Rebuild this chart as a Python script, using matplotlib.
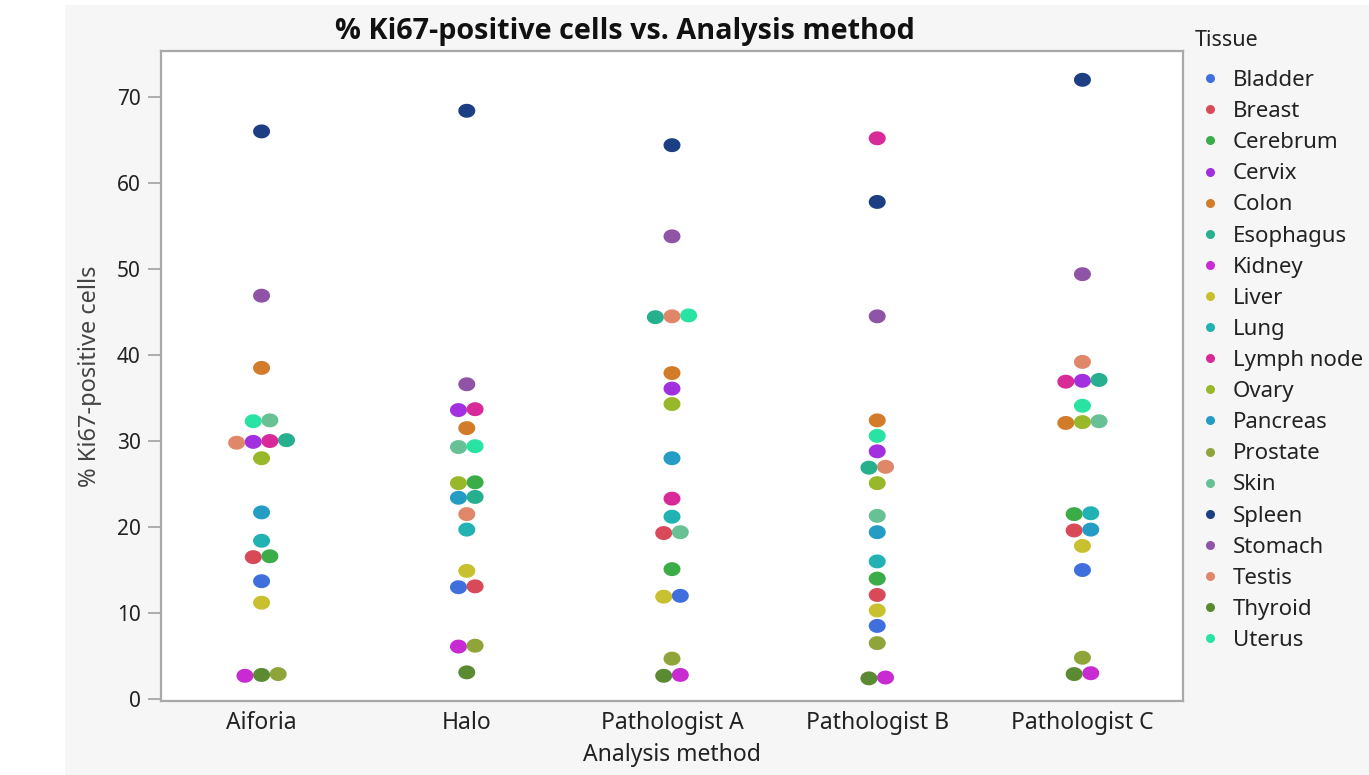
import matplotlib.pyplot as plt
import numpy as np
from matplotlib.patches import Rectangle
from matplotlib.path import Path

plt.rcParams['font.family'] = ['Noto Sans', 'DejaVu Sans']

# 分析方法
methods = ['Aiforia', 'Halo', 'Pathologist A', 'Pathologist B', 'Pathologist C']

# 組織
tissues = ['Bladder', 'Breast', 'Cerebrum', 'Cervix', 'Colon', 'Esophagus', 'Kidney',
           'Liver', 'Lung', 'Lymph node', 'Ovary', 'Pancreas', 'Prostate', 'Skin',
           'Spleen', 'Stomach', 'Testis', 'Thyroid', 'Uterus']

tissue_colors = ['#3f6fdc', '#d84a58', '#3aac48', '#a22fe0', '#d27c2a', '#27b08e', '#c92bd2',
                 '#c9c02f', '#22b2b4', '#d82a98', '#98b82a', '#249cc4', '#8fa53a', '#68c194',
                 '#1b3f82', '#8f54a6', '#e0876a', '#5a8a32', '#29e3a2']

# % Ki67陽性細胞 (tissues順)
aiforia = [13.7, 16.5, 16.6, 29.9, 38.5, 30.1, 2.7, 11.2, 18.4, 30.0, 28.0, 21.7, 2.9, 32.4,
           66.0, 46.9, 29.8, 2.8, 32.3]
halo = [13.0, 13.1, 25.2, 33.6, 31.5, 23.5, 6.1, 14.9, 19.7, 33.7, 25.1, 23.4, 6.2, 29.3,
        68.4, 36.6, 21.5, 3.1, 29.4]
path_a = [12.0, 19.3, 15.1, 36.1, 37.9, 44.4, 2.8, 11.9, 21.2, 23.3, 34.3, 28.0, 4.7, 19.4,
          64.4, 53.8, 44.5, 2.7, 44.6]
path_b = [8.5, 12.1, 14.0, 28.8, 32.4, 26.9, 2.5, 10.3, 16.0, 65.2, 25.1, 19.4, 6.5, 21.3,
          57.8, 44.5, 27.0, 2.4, 30.6]
path_c = [15.0, 19.6, 21.5, 37.0, 32.1, 37.1, 3.0, 17.8, 21.6, 36.9, 32.2, 19.7, 4.8, 32.3,
          72.0, 49.4, 39.2, 2.9, 34.1]
all_values = [aiforia, halo, path_a, path_b, path_c]

#横に並べる間隔
dx = 0.081
tol = 0.5

def swarm(vals):
    vals = np.array(vals)
    order = np.argsort(vals, kind='stable')
    offs = np.zeros(len(vals))
    group = [order[0]]
    for i in order[1:]:
        if vals[i] - vals[group[0]] < tol:
            group.append(i)
        else:
            for k, j in enumerate(group):
                offs[j] = (k - (len(group) - 1) / 2) * dx
            group = [i]
    for k, j in enumerate(group):
        offs[j] = (k - (len(group) - 1) / 2) * dx
    return offs

# 少し横長の点
t = np.linspace(0, 2 * np.pi, 40)
ellipse = Path(np.column_stack([np.cos(t), 0.82 * np.sin(t)]), closed=True)

fig = plt.figure(figsize=(13.69, 7.75), dpi=100)
fig.patch.set_facecolor('white')
fig.patches.append(Rectangle((65 / 1369, 0), 1, 770 / 775, transform=fig.transFigure,
                             facecolor='#f6f6f6', edgecolor='none', zorder=-10))

ax = fig.add_axes([161 / 1369, (775 - 701) / 775, (1183 - 161) / 1369, (701 - 51) / 775])
ax.set_facecolor('white')

for m, vals in enumerate(all_values):
    offs = swarm(vals)
    ax.scatter(m + offs, vals, c=tissue_colors, s=150, marker=ellipse, linewidths=0, zorder=3)

ax.set_xlim(-0.49, 4.49)
ax.set_ylim(-0.23, 75.35)
ax.set_xticks(range(len(methods)))
ax.set_xticklabels(methods)
ax.set_yticks(range(0, 71, 10))
ax.tick_params(axis='x', length=0, pad=7, labelsize=16.5, labelcolor='#222222')
ax.tick_params(axis='y', length=9.5, width=1.2, color='#a0a0a0', pad=5, labelsize=15,
               labelcolor='#222222')
for sp in ax.spines.values():
    sp.set_color('#a8a8a8')
    sp.set_linewidth(1.6)

ax.set_xlabel('Analysis method', fontsize=16.5, color='#222222', labelpad=6)
ax.set_ylabel('% Ki67-positive cells', fontsize=17, color='#444444', labelpad=11)

fig.text(625 / 1369, 1 - 31 / 775, '% Ki67-positive cells vs. Analysis method',
         ha='center', va='center', fontsize=20.7, fontweight='bold', color='#111111',
         family=['Open Sans', 'Lato', 'DejaVu Sans'])

fig.text(1195 / 1369, 1 - 40 / 775, 'Tissue', ha='left', va='center', fontsize=15.5,
         color='#222222')

handles = [plt.Line2D([], [], linestyle='none', marker='o', markersize=6.5,
                      markerfacecolor=c, markeredgewidth=0) for c in tissue_colors]
leg = fig.legend(handles, tissues, loc='upper left', bbox_to_anchor=(1197 / 1369, 1 - 70 / 775),
                 frameon=False, fontsize=16, handlelength=1.2, handletextpad=0.42,
                 labelspacing=0.455, borderaxespad=0, borderpad=0)
for txt in leg.get_texts():
    txt.set_color('#222222')

fig.savefig('out.png', dpi=100)
